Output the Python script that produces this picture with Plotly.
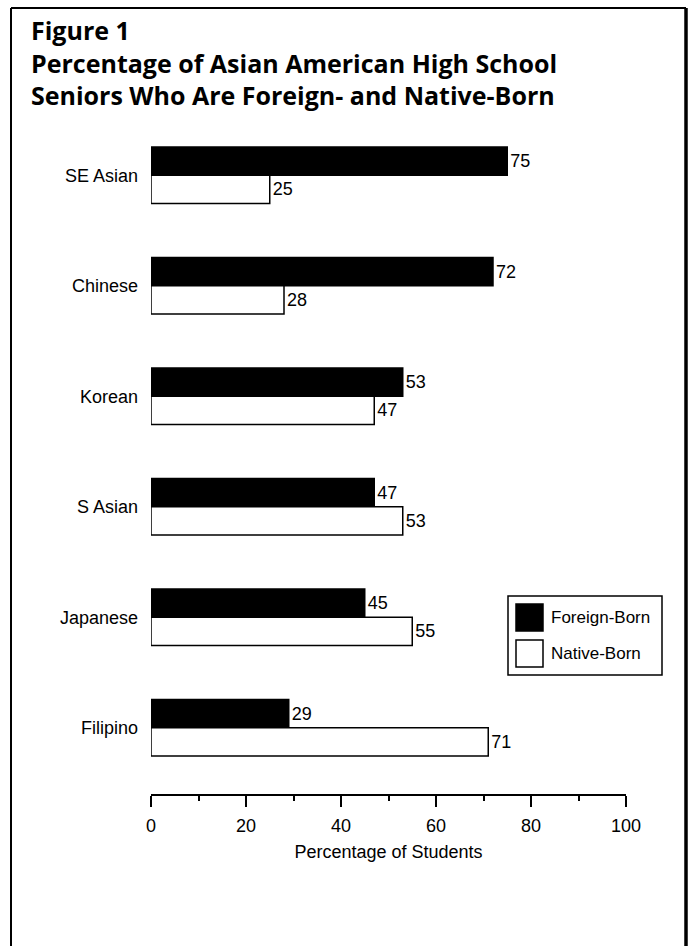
import plotly.graph_objects as go

# Data: share of Asian American high school seniors by birthplace (%)
groups = ["SE Asian", "Chinese", "Korean", "S Asian", "Japanese", "Filipino"]
foreign_born = [75, 72, 53, 47, 45, 29]
native_born = [25, 28, 47, 53, 55, 71]
x_ticks = [0, 20, 40, 60, 80, 100]
series_names = ["Foreign-Born", "Native-Born"]
title_lines = [
    "Figure 1",
    "Percentage of Asian American High School",
    "Seniors Who Are Foreign- and Native-Born",
]

W, H = 692, 946
M_L, M_R, M_T, M_B = 151, 66, 109, 152
PW, PH = W - M_L - M_R, H - M_T - M_B
FONT = "Liberation Sans, Arial, sans-serif"
TITLE_FONT = "Open Sans, sans-serif"
FS = 18


def px_x(px):
    """Convert a page x pixel to paper coordinates."""
    return (px - M_L) / PW


def px_y(py):
    """Convert a page y pixel to paper coordinates."""
    return (H - M_B - py) / PH


fig = go.Figure()
fig.add_trace(go.Bar(
    y=groups, x=foreign_born, orientation="h", name=series_names[0],
    marker=dict(color="black", line=dict(color="black", width=1.5)),
    text=[str(v) for v in foreign_born], textposition="outside",
    textfont=dict(family=FONT, size=FS, color="black"), cliponaxis=False,
))
fig.add_trace(go.Bar(
    y=groups, x=native_born, orientation="h", name=series_names[1],
    marker=dict(color="white", line=dict(color="black", width=1.5)),
    text=[str(v) for v in native_born], textposition="outside",
    textfont=dict(family=FONT, size=FS, color="black"), cliponaxis=False,
))

shapes = []
annotations = []

# Page frame
frame_l, frame_r, frame_t, frame_b = 11, 686, 8, 980
shapes.append(dict(type="line", xref="paper", yref="paper",
                   x0=px_x(frame_l), x1=px_x(frame_l), y0=px_y(frame_t), y1=px_y(frame_b),
                   line=dict(color="black", width=2)))
shapes.append(dict(type="line", xref="paper", yref="paper",
                   x0=px_x(frame_l), x1=px_x(frame_r), y0=px_y(frame_t), y1=px_y(frame_t),
                   line=dict(color="black", width=2)))
shapes.append(dict(type="line", xref="paper", yref="paper",
                   x0=px_x(frame_r), x1=px_x(frame_r), y0=px_y(frame_t), y1=px_y(frame_b),
                   line=dict(color="black", width=3.5)))

# Three-line title block
annotations.append(dict(xref="paper", yref="paper", x=px_x(29), y=px_y(62),
                        xanchor="left", yanchor="middle", align="left", showarrow=False,
                        text="<br>".join(title_lines),
                        font=dict(family=TITLE_FONT, size=25, color="black", weight="bold")))

# Legend box with large swatches
lg_l, lg_r, lg_t, lg_b = 508, 662, 596, 675
shapes.append(dict(type="rect", xref="paper", yref="paper",
                   x0=px_x(lg_l), x1=px_x(lg_r), y0=px_y(lg_b), y1=px_y(lg_t),
                   line=dict(color="black", width=1.5), fillcolor="white"))
swatch_rows = [(604, 631, "black"), (640, 667, "white")]
for (top, bot, fill), name in zip(swatch_rows, series_names):
    shapes.append(dict(type="rect", xref="paper", yref="paper",
                       x0=px_x(516), x1=px_x(543), y0=px_y(bot), y1=px_y(top),
                       line=dict(color="black", width=1.5), fillcolor=fill))
    annotations.append(dict(xref="paper", yref="paper", x=px_x(549), y=px_y((top + bot) / 2),
                            xanchor="left", yanchor="middle", showarrow=False, text=name,
                            font=dict(family=FONT, size=17, color="black")))

fig.update_layout(
    width=W, height=H,
    margin=dict(l=M_L, r=M_R, t=M_T, b=M_B),
    paper_bgcolor="white", plot_bgcolor="white",
    barmode="group", bargap=0.49, bargroupgap=0,
    showlegend=False,
    xaxis=dict(
        range=[0, 100], tickvals=x_ticks, ticktext=[str(t) for t in x_ticks],
        showgrid=False, zeroline=False, showline=True, linecolor="black", linewidth=1.5,
        ticks="outside", ticklen=11, tickwidth=1.5, tickcolor="black",
        minor=dict(dtick=10, ticks="outside", ticklen=5, tickwidth=1.5, tickcolor="black"),
        tickfont=dict(family=FONT, size=FS, color="black"),
        ticklabelstandoff=4,
        title=dict(text="Percentage of Students", standoff=10,
                   font=dict(family=FONT, size=FS, color="black")),
        fixedrange=True,
    ),
    yaxis=dict(
        type="category", categoryorder="array", categoryarray=groups,
        range=[len(groups) - 0.4, -0.6],
        showgrid=False, zeroline=False, showline=False, ticks="",
        ticklabelstandoff=12,
        tickfont=dict(family=FONT, size=FS, color="black"),
        fixedrange=True,
    ),
    shapes=shapes, annotations=annotations,
)

fig.write_html("out.html")
